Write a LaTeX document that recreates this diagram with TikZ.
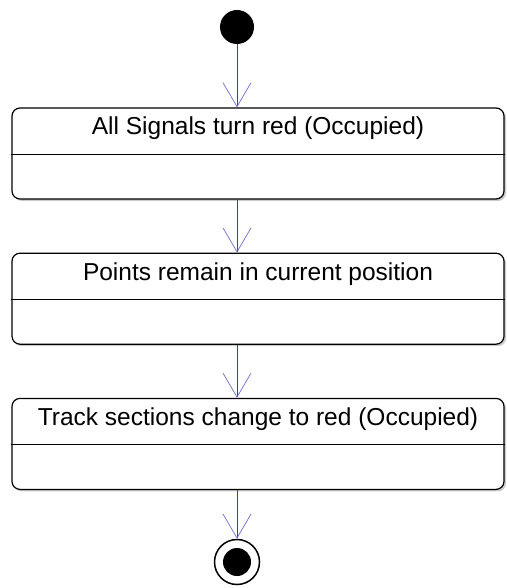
\documentclass[tikz,border=0pt]{standalone}
\usepackage{fontspec}
\setmainfont{Liberation Sans}
\usetikzlibrary{positioning,arrows.meta,shadows}
\definecolor{umlblue}{RGB}{60,60,190}
\tikzset{
  state/.style={draw, line width=1.2pt, rounded corners=8pt, minimum width=492pt,
    inner ysep=0pt, text height=27pt, text depth=64pt, fill=white,
    font=\fontsize{24.5pt}{29pt}\selectfont,
    drop shadow={shadow xshift=2pt, shadow yshift=-2pt, fill=black!40}},
  flow/.style={draw=umlblue, line width=1pt,
    -{Straight Barb[length=24pt, width=28pt, line width=0.7pt, color=umlblue!75]}},
  initial/.style={circle, fill=black, minimum size=34pt, inner sep=0pt},
  final/.style={circle, draw, line width=1.5pt, fill=white, minimum size=45pt, inner sep=0pt,
    path picture={\fill[black] (path picture bounding box.center) circle (14pt);}}
}
\begin{document}
\begin{tikzpicture}[x=1pt,y=1pt]
\useasboundingbox (0,0) rectangle (506,-588);
\node (start) [initial] at (237,-27) {};
\node (s1) [state] at (258,-153.5) {All Signals turn red (Occupied)};
\node (s2) [state, below=53pt of s1] {Points remain in current position};
\node (s3) [state, below=53pt of s2] {Track sections change to red (Occupied)};
\node (end) [final] at (237,-562) {};

\foreach \s in {s1,s2,s3}
  \draw[line width=1.2pt] ([yshift=-47pt]\s.north west) -- ([yshift=-47pt]\s.north east);

\draw[flow] (start) -- (start |- s1.north);
\draw[flow] (start |- s1.south) -- (start |- s2.north);
\draw[flow] (start |- s2.south) -- (start |- s3.north);
\draw[flow] (start |- s3.south) -- (end);
\end{tikzpicture}
\end{document}
